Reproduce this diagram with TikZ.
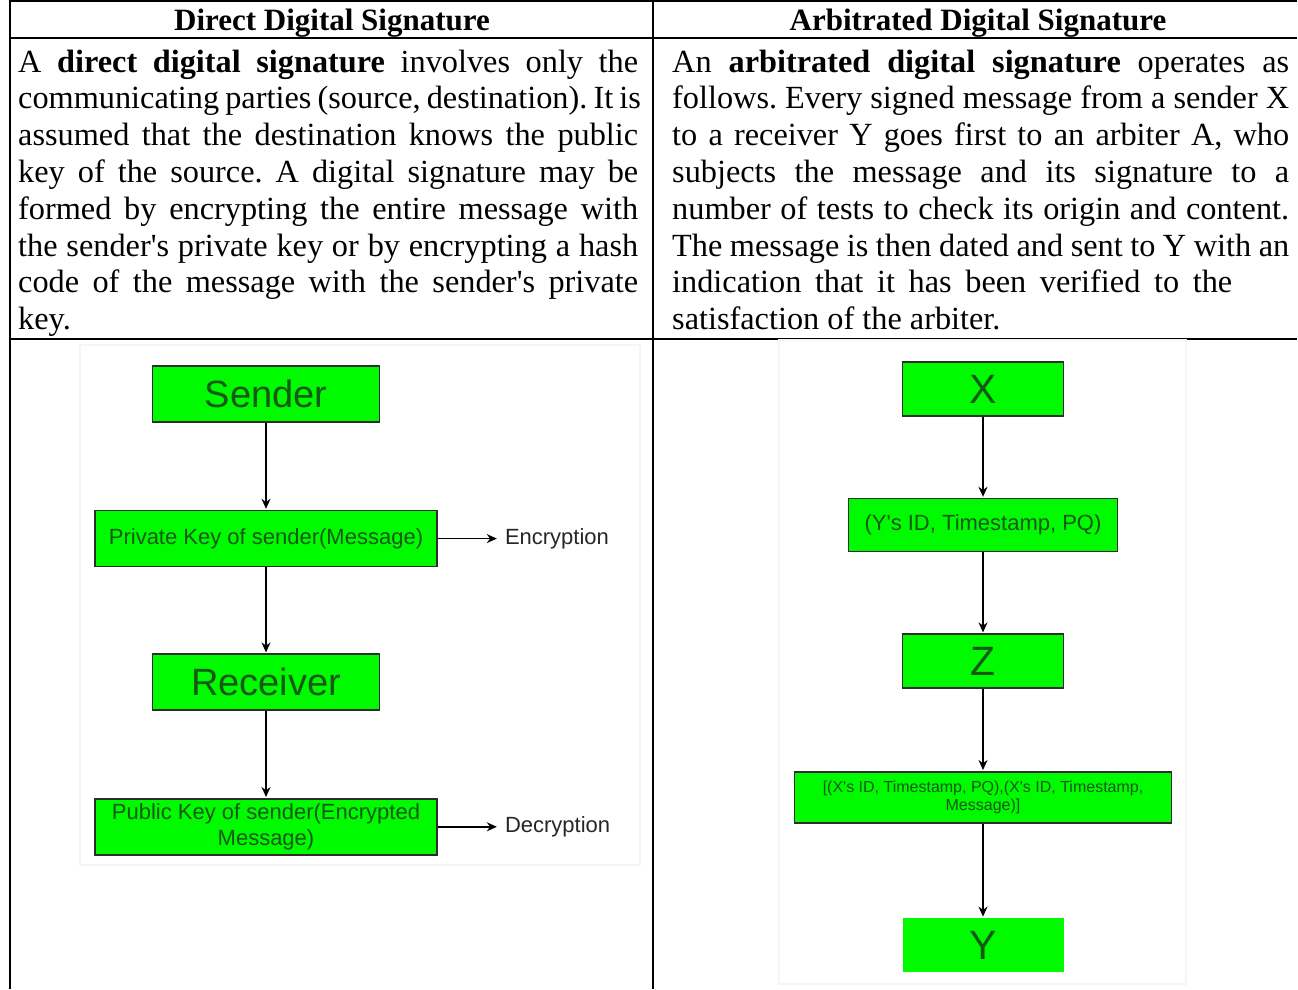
\documentclass[tikz,border=0pt]{standalone}
\usepackage{fontspec}
\setmainfont{Liberation Serif}
\setsansfont{Liberation Sans}
\usetikzlibrary{arrows.meta,positioning}
\definecolor{boxgreen}{RGB}{0,250,0}
\definecolor{boxtext}{RGB}{22,88,22}
\definecolor{edgegray}{RGB}{45,45,45}
\newcommand{\jline}[2][\linewidth]{\makebox[#1][s]{#2}}
\newcommand{\stretchspaces}{\frenchspacing\spaceskip=0.25em plus 0.5em minus 0.06em\relax}
\begin{document}
\begin{tikzpicture}[x=1pt,y=-1pt,>={Stealth[length=10pt,width=9pt]},shorten >=1pt,
  every node/.style={inner sep=0pt},
  rule/.style={line width=2pt},
  panel/.style={draw=black!4,line width=1.5pt},
  head/.style={anchor=base,font=\fontsize{31}{36}\selectfont\bfseries},
  para/.style={anchor=base west,text width=#1,font=\fontsize{32.3}{36.8}\selectfont},
  box/.style={fill=boxgreen,draw=edgegray,line width=1.6pt,text=boxtext,
    font=\sffamily\fontsize{22}{26}\selectfont,align=center},
  bigbox/.style={box,minimum width=227pt,minimum height=56pt,
    font=\sffamily\fontsize{38}{40}\selectfont},
  widebox/.style={box,minimum width=342pt,minimum height=56pt},
  letterbox/.style={box,minimum width=161pt,minimum height=54pt,
    font=\sffamily\fontsize{41}{42}\selectfont},
  outcome/.style={inner xsep=7pt,text=black!85,font=\sffamily\fontsize{22}{26}\selectfont},
  flow/.style={->,line width=1.5pt}
  ]
\useasboundingbox (0,0) rectangle (1298,990);

% table
\draw[rule] (10,1) -- (1298,1);
\draw[rule] (10,38) -- (1298,38);
\draw[rule] (10,339) -- (1298,339);
\draw[rule] (10,0) -- (10,990);
\draw[rule] (653,0) -- (653,990);

\node[head] (HeadDirect) at (332,31) {Direct Digital Signature};
\node[head] (HeadArb) at (978,31) {Arbitrated Digital Signature};

\node[para=620pt] (TextDirect) at (18,72) {\stretchspaces
\jline[620pt]{A \textbf{direct digital signature} involves only the}\\
\jline[620pt]{communicating parties (source, destination). It is}\\
\jline[620pt]{assumed that the destination knows the public}\\
\jline[620pt]{key of the source. A digital signature may be}\\
\jline[620pt]{formed by encrypting the entire message with}\\
\jline[620pt]{the sender\textquotesingle s private key or by encrypting a hash}\\
\jline[620pt]{code of the message with the sender\textquotesingle s private}\\
key.};

\node[para=617pt] (TextArb) at (672,72) {\stretchspaces
\jline[617pt]{An \textbf{arbitrated digital signature} operates as}\\
\jline[617pt]{follows. Every signed message from a sender X}\\
\jline[617pt]{to a receiver Y goes first to an arbiter A, who}\\
\jline[617pt]{subjects the message and its signature to a}\\
\jline[617pt]{number of tests to check its origin and content.}\\
\jline[617pt]{The message is then dated and sent to Y with an}\\
\jline[560pt]{indication that it has been verified to the}\\
satisfaction of the arbiter.};

% screenshots
\draw[panel] (80,345) rectangle (640,865);
\draw[panel] (779,340) rectangle (1186,984);

% direct
\node[bigbox] (Sender) at (266,394) {Sender};
\node[widebox] (PrivKey) [below=87pt of Sender] {Private Key of sender(Message)};
\node[bigbox] (Receiver) [below=86pt of PrivKey] {Receiver};
\node[widebox] (PubKey) [below=87pt of Receiver] {Public Key of sender(Encrypted\\Message)};
\node[outcome] (Enc) [right=60pt of PrivKey] {Encryption};
\node[outcome] (Dec) [right=60pt of PubKey] {Decryption};

% arbitrated
\node[letterbox] (X) at (983,389) {X};
\node[box,minimum width=269pt,minimum height=53pt] (YId) [below=81pt of X] {(Y\textquotesingle s ID, Timestamp, PQ)};
\node[letterbox] (Z) [below=81pt of YId] {Z};
\node[box,minimum width=377pt,minimum height=51pt,font=\sffamily\fontsize{16}{18}\selectfont]
  (XId) [below=82pt of Z] {[(X\textquotesingle s ID, Timestamp, PQ),(X\textquotesingle s ID, Timestamp,\\Message)]};
\node[letterbox,draw=none] (Y) [below=94pt of XId] {Y};

\path[flow]
  (Sender) edge (PrivKey)
  (PrivKey) edge (Receiver)
            edge (Enc)
  (Receiver) edge (PubKey)
  (PubKey) edge (Dec)
  (X) edge (YId)
  (YId) edge (Z)
  (Z) edge (XId)
  (XId) edge (Y);
\end{tikzpicture}
\end{document}
